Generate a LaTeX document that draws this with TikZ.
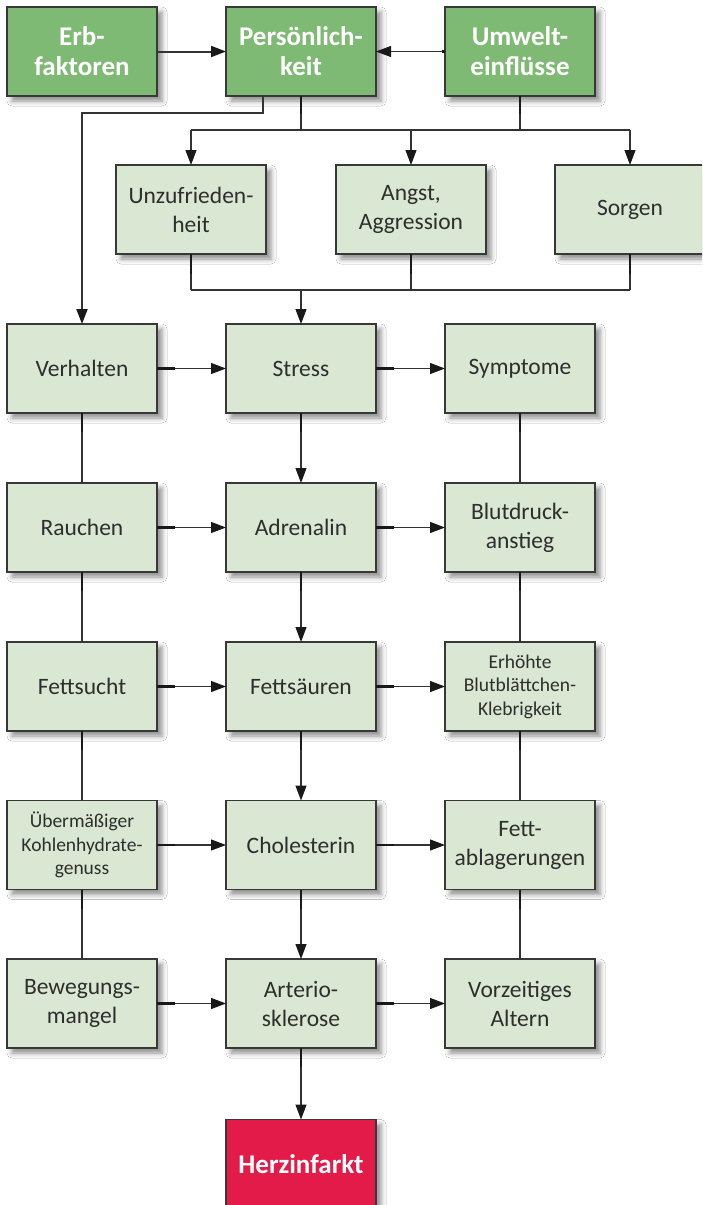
\documentclass[tikz,border=0pt]{standalone}
\usepackage{fontspec}
\setmainfont{Carlito}
\usetikzlibrary{arrows.meta,shadows.blur}
\definecolor{dkgreen}{HTML}{7FBA74}
\definecolor{ltgreen}{HTML}{D9E7D3}
\definecolor{herz}{HTML}{E31B48}
\definecolor{rim}{HTML}{383838}
\definecolor{ink}{HTML}{2E2E2E}
\tikzset{
  box/.style={draw=rim, line width=1.1pt, minimum width=150pt, minimum height=89pt,
    inner sep=0pt, outer sep=0pt, align=center, text=ink,
    font=\fontsize{23.5}{29}\selectfont,
    blur shadow={shadow xshift=5pt, shadow yshift=-5pt, shadow blur radius=5pt, shadow opacity=45}},
  plainbox/.style={box, fill=ltgreen},
  keybox/.style={box, fill=dkgreen, text=white, font=\fontsize{27}{30}\selectfont\bfseries},
  alarmbox/.style={keybox, fill=herz},
  smalltext/.style={font=\fontsize{19.5}{23.5}\selectfont},
  conn/.style={line width=1.1pt, draw=black!80},
  arr/.style={conn, -{Triangle[length=15pt,width=11pt,color=black!90]}},
  stub/.style={line width=2.4pt, draw=black!90, line cap=butt},
}
\begin{document}
\begin{tikzpicture}[x=1pt,y=-1pt]
\useasboundingbox (0,0) rectangle (702,1205);
\fill[white] (0,0) rectangle (702,1205);
\clip (0,0) rectangle (702,1205);

% top row
\node[keybox] (erb) at (82,51.5) {Erb-\\faktoren};
\node[keybox] (pers) at (301,51.5) {Persönlich-\\keit};
\node[keybox] (umw) at (520,51.5) {Umwelt-\\einflüsse};
% second row
\node[plainbox] (unz) at (191,209.5) {Unzufrieden-\\heit};
\node[plainbox] (angst) at (411,209.5) {Angst,\\Aggression};
\node[plainbox] (sorg) at (630,209.5) {Sorgen};
% grid
\node[plainbox] (verh) at (82,368.5) {Verhalten};
\node[plainbox] (stress) at (301,368.5) {Stress};
\node[plainbox] (sympt) at (520,368.5) {Symptome};
\node[plainbox] (rauch) at (82,527.5) {Rauchen};
\node[plainbox] (adren) at (301,527.5) {Adrenalin};
\node[plainbox] (blut) at (520,527.5) {Blutdruck-\\anstieg};
\node[plainbox] (fett) at (82,686.5) {Fettsucht};
\node[plainbox] (fsaur) at (301,686.5) {Fettsäuren};
\node[plainbox,smalltext] (erh) at (520,686.5) {Erhöhte\\Blutblättchen-\\Klebrigkeit};
\node[plainbox,smalltext] (uber) at (82,845) {Übermäßiger\\Kohlenhydrate-\\genuss};
\node[plainbox] (chol) at (301,845) {Cholesterin};
\node[plainbox] (fettab) at (520,845) {Fett-\\ablagerungen};
\node[plainbox] (beweg) at (82,1003.5) {Bewegungs-\\mangel};
\node[plainbox] (arter) at (301,1003.5) {Arterio-\\sklerose};
\node[plainbox] (vorz) at (520,1003.5) {Vorzeitiges\\Altern};
\node[alarmbox] (herz) at (301,1164) {Herzinfarkt};

% top connectors
\draw[arr, line width=2pt] (erb.east) -- (pers.west);
\draw[arr] (umw.west) -- (pers.east);
\draw[stub] (umw.west) -- ++(-3,0);
\coordinate (pv) at ([xshift=-38pt]pers.south);
\draw[arr, line width=2pt] (pv) -- ++(0,17) -| (verh.north);

\coordinate (bus1) at (301,130);
\draw[conn] (pers.south) -- (bus1);
\draw[stub] (pers.south) -- ++(0,18);
\draw[conn] (umw.south) -- (umw.south |- bus1);
\draw[stub] (umw.south) -- ++(0,18);
\draw[conn] (unz.north |- bus1) -- (sorg.north |- bus1);
\foreach \n in {unz,angst,sorg}{
  \draw[arr] (\n.north |- bus1) -- (\n.north);
}
\coordinate (bus2) at (301,290);
\foreach \n in {unz,angst,sorg}{
  \draw[conn] (\n.south) -- (\n.south |- bus2);
  \draw[stub] (\n.south) -- ++(0,20);
}
\draw[conn] (unz.south |- bus2) -- (sorg.south |- bus2);
\draw[arr] (bus2) -- (stress.north);

% horizontal arrows in grid
\foreach \a/\b/\c in {verh/stress/sympt, rauch/adren/blut, fett/fsaur/erh, uber/chol/fettab, beweg/arter/vorz}{
  \draw[arr] (\a.east) -- (\b.west);
  \draw[stub] (\a.east) -- ++(18,0);
  \draw[arr] (\b.east) -- (\c.west);
  \draw[stub] (\b.east) -- ++(18,0);
}
% vertical links
\foreach \a/\b in {verh/rauch, rauch/fett, fett/uber, uber/beweg, sympt/blut, blut/erh, erh/fettab, fettab/vorz}{
  \draw[conn] (\a.south) -- (\b.north);
  \draw[stub] (\a.south) -- ++(0,19);
}
\foreach \a/\b in {stress/adren, adren/fsaur, fsaur/chol, chol/arter, arter/herz}{
  \draw[arr] (\a.south) -- (\b.north);
  \draw[stub] (\a.south) -- ++(0,19);
}
\end{tikzpicture}
\end{document}
